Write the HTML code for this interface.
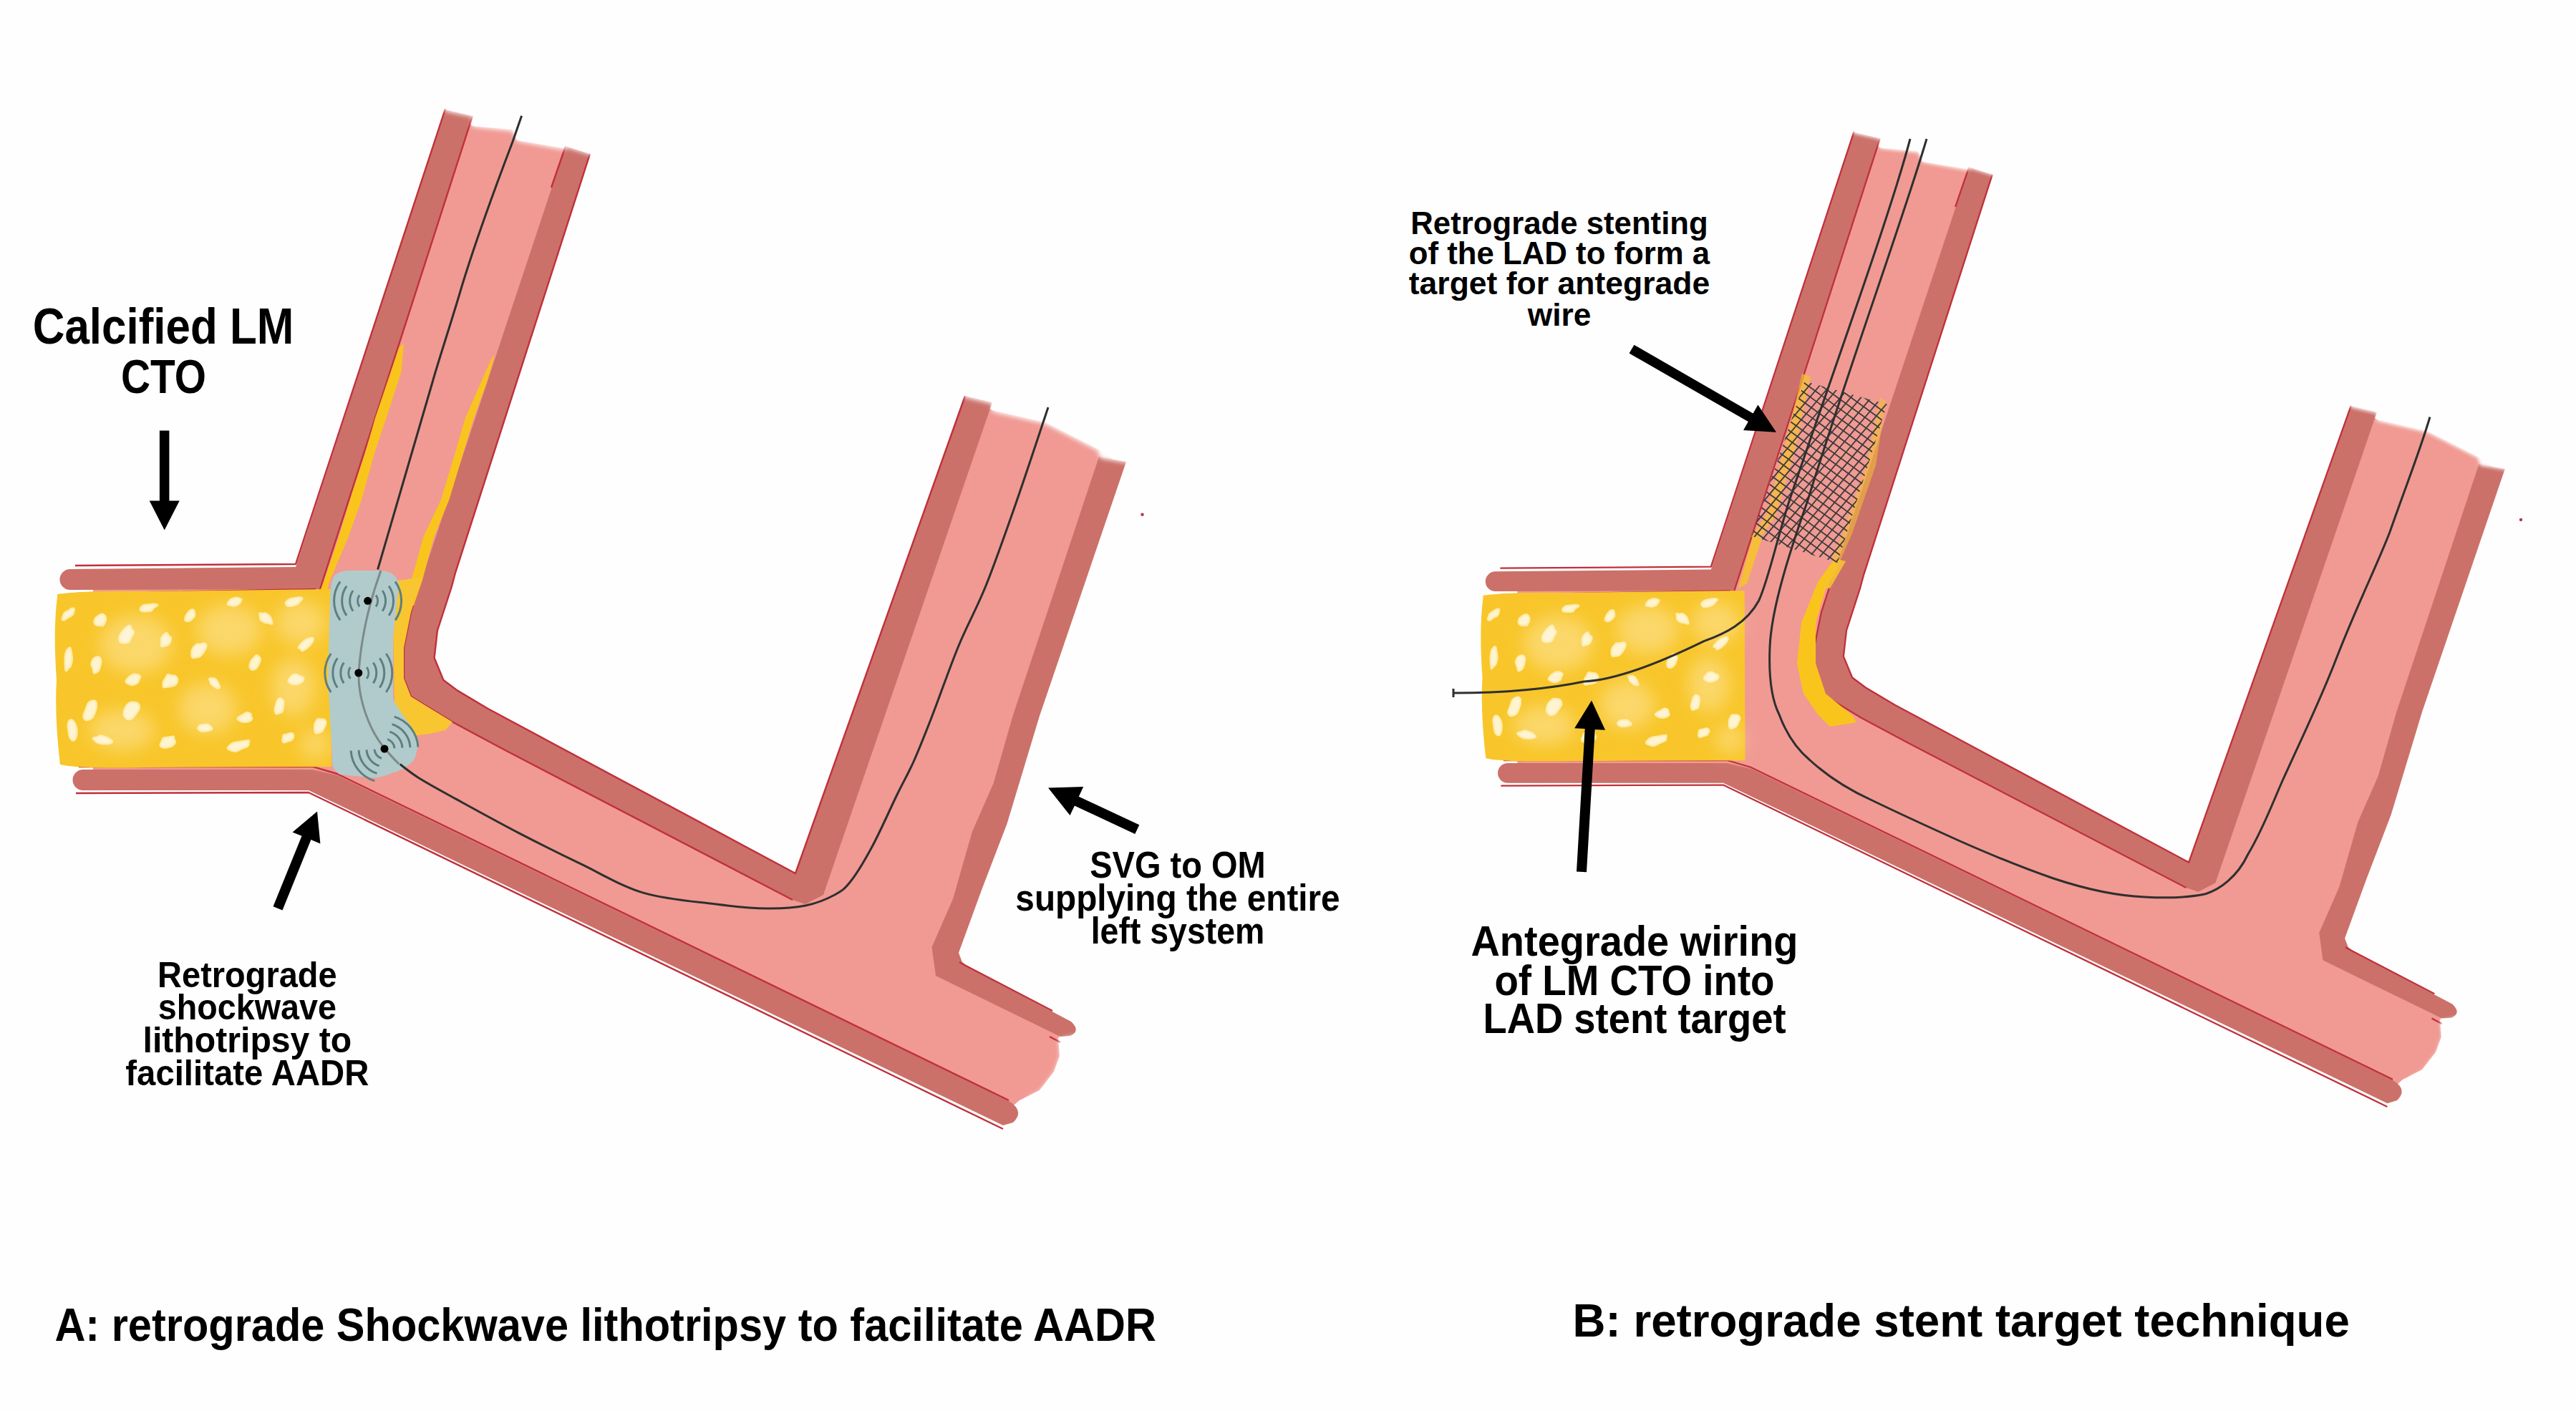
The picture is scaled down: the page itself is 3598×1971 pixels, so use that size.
<!DOCTYPE html>
<html><head><meta charset="utf-8"><title>LM CTO</title>
<style>
html,body{margin:0;padding:0;background:#fefefe;overflow:hidden;}
svg{display:block;}
text{font-family:"Liberation Sans",sans-serif;font-weight:bold;fill:#000;}
</style></head><body>
<svg width="3598" height="1971" viewBox="0 0 3598 1971">
<defs><filter id="soft" x="-50%" y="-50%" width="200%" height="200%"><feGaussianBlur stdDeviation="12"/></filter><filter id="fz" x="-20%" y="-20%" width="140%" height="140%"><feGaussianBlur stdDeviation="3"/></filter>
<g id="vessel">
<polygon points="130.0,808.0 430.0,805.0 641.0,158.0 660.0,176.0 716.0,181.0 722.0,196.0 788.0,207.0 807.0,210.0 608.0,820.0 588.0,905.0 590.0,950.0 610.0,970.0 660.0,1000.0 1110.0,1240.0 1367.0,558.0 1386.0,573.0 1460.0,590.0 1533.0,627.0 1554.0,641.0 1433.0,1000.0 1372.0,1200.0 1320.0,1328.0 1325.0,1354.0 1490.0,1438.0 1478.0,1450.0 1480.0,1475.0 1472.0,1497.0 1452.0,1523.0 1424.0,1537.0 1405.0,1553.0 451.0,1094.0 434.0,1088.0 130.0,1088.0" fill="#f09a93"/>
<path d="M98,795 L413,792 L622,153 L660,162 L447,823 L98,824 A14.5,14.5 0 0 1 98,795 Z" fill="#cb716a"/>
<polygon points="790.0,204.0 824.0,215.0 630.7,820.0 610.9,881.0 606.6,919.0 619.4,950.0 639.0,964.6 681.7,990.0 1111.0,1220.0 1348.0,553.0 1386.0,562.0 1150.0,1250.0 1125.0,1263.0 1107.0,1257.0 700.0,1045.0 632.0,1008.5 596.7,987.0 574.0,973.0 564.0,947.5 564.0,905.0 574.0,855.0 585.4,820.0" fill="#cb716a"/>
<path d="M1535,638 L1573,645 L1452,1000 L1406.5,1150.7 L1371.5,1242 L1339,1331 L1344,1344 L1354,1352 L1496,1427 Q1510,1440 1495,1447 L1481,1448 L1307,1363 L1301.5,1323 L1331,1255.7 L1358,1161.5 L1387.7,1094 L1414.6,1000 Z" fill="#cb716a"/>
<path d="M116,1075 L437,1075 L471,1083 L1409,1538 Q1432,1552 1415,1568 L1401,1572 L431,1104 L116,1104 A14.5,14.5 0 0 1 116,1075 Z" fill="#cb716a"/>
<polyline points="660.0,162.0 447.0,823.0" fill="none" stroke="#c0303b" stroke-width="2.4" stroke-linejoin="round"/>
<polyline points="824.0,215.0 636.0,800.0" fill="none" stroke="#c0303b" stroke-width="2.4" stroke-linejoin="round"/>
<polyline points="790.0,204.0 770.0,262.0" fill="none" stroke="#c0303b" stroke-width="2.4" stroke-linejoin="round"/>
<polyline points="105.0,790.0 413.0,788.0 622.0,152.0" fill="none" stroke="#c0303b" stroke-width="2.4" stroke-linejoin="round"/>
<polyline points="107.0,829.0 441.0,823.0" fill="none" stroke="#c0303b" stroke-width="2.4" stroke-linejoin="round"/>
<polyline points="636.0,800.0 630.7,820.0 610.9,881.0 606.6,919.0 619.4,950.0 639.0,964.6 681.7,990.0 1111.0,1220.0 1348.0,553.0" fill="none" stroke="#c0303b" stroke-width="2.4" stroke-linejoin="round"/>
<polyline points="590.0,800.0 585.4,820.0 574.0,855.0 564.0,905.0 564.0,947.5 574.0,973.0 596.7,987.0 632.0,1008.5 700.0,1045.0 1107.0,1257.0" fill="none" stroke="#c0303b" stroke-width="2.4" stroke-linejoin="round"/>
<polyline points="1340.0,1344.0 1351.0,1350.0 1470.0,1412.0" fill="none" stroke="#c0303b" stroke-width="2.4" stroke-linejoin="round"/>
<polyline points="110.0,1071.0 437.0,1071.0 471.0,1081.0 1409.0,1537.0" fill="none" stroke="#c0303b" stroke-width="2.4" stroke-linejoin="round"/>
<polyline points="106.0,1108.0 431.0,1107.0 1401.0,1577.0" fill="none" stroke="#c0303b" stroke-width="2.4" stroke-linejoin="round"/>
<polyline points="1466.0,1448.0 1481.0,1456.0" fill="none" stroke="#c0303b" stroke-width="2.4" stroke-linejoin="round"/>
<g filter="url(#fz)" fill="#fefefe"><polygon points="560,60 880,140 832,218 792,206 788,209 722,197 716,183 660,177 660,163 622,155"/><polygon points="1300,470 1620,560 1578,647 1537,640 1533,629 1460,592 1386,575 1386,564 1348,555"/><polygon points="1479,1452 1481,1475 1473,1498 1453,1524 1434,1535 1452,1546 1500,1522 1532,1472 1512,1444"/></g>
</g>
<g id="plaque">
<path d="M80,830 Q120,825 200,826 L462,823 L463,1071 L200,1072 Q110,1074 84,1068 Q76,1000 79,950 Q74,880 80,834 Z" fill="#f8c62a"/>
<g filter="url(#soft)" fill="#fde395" opacity="0.6"><ellipse cx="190" cy="900" rx="50" ry="40"/><ellipse cx="320" cy="880" rx="45" ry="35"/><ellipse cx="420" cy="870" rx="35" ry="30"/><ellipse cx="410" cy="960" rx="30" ry="40"/><ellipse cx="170" cy="1020" rx="45" ry="28"/><ellipse cx="290" cy="990" rx="40" ry="35"/><ellipse cx="440" cy="1040" rx="20" ry="20"/></g>
<path d="M103.7,850.7 C103.6,851.3 103.5,853.0 103.1,854.3 C102.7,855.7 102.7,857.5 101.4,858.9 C100.1,860.3 97.4,861.3 95.4,862.5 C93.5,863.7 91.2,865.7 89.8,866.1 C88.3,866.5 87.1,865.7 86.8,864.9 C86.5,864.0 87.5,862.4 88.0,861.0 C88.4,859.6 88.5,858.0 89.7,856.6 C90.9,855.3 93.4,854.2 95.3,853.1 C97.1,851.9 99.3,850.1 100.7,849.7 C102.1,849.3 103.3,850.0 103.7,850.7 C104.1,851.5 103.5,853.0 103.1,854.3 C102.7,855.7 101.7,858.1 101.4,858.9" fill="#fff9e2" stroke="#fff0bc" stroke-width="2.5" opacity="0.9"/>
<path d="M146.2,859.7 C146.4,860.3 147.5,861.7 147.7,863.0 C147.8,864.3 148.0,866.0 147.4,867.8 C146.7,869.5 145.3,872.6 143.9,873.6 C142.4,874.6 140.2,873.8 138.7,873.8 C137.2,873.7 136.0,873.8 134.8,873.3 C133.7,872.7 132.3,871.9 131.9,870.4 C131.5,868.9 131.6,866.2 132.6,864.4 C133.6,862.6 136.1,860.7 137.9,859.5 C139.6,858.4 141.7,857.7 143.0,857.7 C144.4,857.7 145.4,858.9 146.2,859.7 C147.0,860.6 147.5,861.7 147.7,863.0 C147.8,864.3 147.4,867.0 147.4,867.8" fill="#fff9e2" stroke="#fff0bc" stroke-width="2.5" opacity="0.9"/>
<path d="M220.2,845.4 C219.2,846.1 215.7,848.0 214.3,849.3 C212.8,850.6 213.3,852.3 211.5,853.1 C209.7,853.9 205.8,854.0 203.7,854.1 C201.5,854.2 199.7,854.1 198.4,853.7 C197.1,853.3 196.3,852.7 196.0,851.9 C195.7,851.1 195.7,850.2 196.5,849.1 C197.2,848.1 198.5,846.2 200.5,845.4 C202.4,844.7 205.7,844.9 208.1,844.6 C210.5,844.4 213.1,843.7 215.1,843.8 C217.1,843.9 220.3,844.5 220.2,845.4 C220.0,846.3 215.7,848.0 214.3,849.3 C212.8,850.6 211.9,852.5 211.5,853.1" fill="#fff9e2" stroke="#fff0bc" stroke-width="2.5" opacity="0.9"/>
<path d="M270.5,851.9 C270.7,852.6 271.6,854.4 271.8,855.9 C272.0,857.4 272.3,859.3 271.7,860.7 C271.1,862.2 269.3,863.7 268.1,864.8 C266.9,865.9 265.8,866.8 264.7,867.3 C263.6,867.8 262.4,868.0 261.4,867.7 C260.3,867.5 258.6,867.1 258.3,865.9 C258.0,864.7 258.8,862.1 259.6,860.4 C260.3,858.7 261.4,857.2 262.5,855.8 C263.7,854.4 265.1,852.6 266.4,852.0 C267.8,851.4 269.6,851.3 270.5,851.9 C271.4,852.6 271.6,854.4 271.8,855.9 C272.0,857.4 271.7,859.9 271.7,860.7" fill="#fff9e2" stroke="#fff0bc" stroke-width="2.5" opacity="0.9"/>
<path d="M337.4,837.3 C337.2,837.8 336.7,839.3 335.9,840.5 C335.2,841.6 334.6,843.2 333.0,844.2 C331.3,845.2 328.1,846.3 326.3,846.5 C324.4,846.7 323.1,846.0 321.7,845.6 C320.3,845.3 318.3,845.2 317.8,844.4 C317.4,843.6 318.1,842.2 318.9,841.0 C319.7,839.8 320.8,838.1 322.6,837.1 C324.4,836.1 327.5,835.1 329.5,834.9 C331.4,834.7 332.9,835.4 334.2,835.7 C335.5,836.1 337.1,836.5 337.4,837.3 C337.7,838.0 336.7,839.3 335.9,840.5 C335.2,841.6 333.5,843.6 333.0,844.2" fill="#fff9e2" stroke="#fff0bc" stroke-width="2.5" opacity="0.9"/>
<path d="M379.9,871.4 C378.9,871.2 375.7,870.4 374.0,870.1 C372.2,869.7 371.1,870.1 369.4,869.4 C367.7,868.6 364.9,867.1 363.8,865.7 C362.8,864.3 363.3,862.5 363.1,861.0 C362.9,859.5 361.8,857.4 362.5,856.8 C363.1,856.1 365.4,857.0 366.9,857.0 C368.4,857.0 369.8,856.1 371.5,856.8 C373.1,857.5 375.7,859.5 377.0,861.1 C378.2,862.7 378.7,864.6 379.2,866.3 C379.7,868.1 380.8,870.8 379.9,871.4 C379.1,872.0 375.7,870.4 374.0,870.1 C372.2,869.7 370.2,869.5 369.4,869.4" fill="#fff9e2" stroke="#fff0bc" stroke-width="2.5" opacity="0.9"/>
<path d="M422.4,836.2 C421.8,836.9 420.1,839.0 418.9,840.2 C417.7,841.5 417.1,843.0 415.3,844.0 C413.5,845.0 410.4,845.9 408.3,846.4 C406.1,846.8 403.6,847.0 402.2,846.7 C400.7,846.4 400.1,845.4 399.6,844.5 C399.1,843.6 398.4,842.6 399.2,841.3 C400.0,840.1 402.3,838.1 404.4,837.1 C406.5,836.2 409.5,835.8 411.8,835.4 C414.1,835.0 416.5,834.5 418.3,834.6 C420.0,834.7 422.3,835.3 422.4,836.2 C422.5,837.2 420.1,839.0 418.9,840.2 C417.7,841.5 415.9,843.4 415.3,844.0" fill="#fff9e2" stroke="#fff0bc" stroke-width="2.5" opacity="0.9"/>
<path d="M183.6,889.6 C183.0,890.7 181.8,895.1 180.1,896.6 C178.5,898.0 175.9,898.2 173.8,898.2 C171.8,898.2 169.0,898.2 167.8,896.7 C166.6,895.2 166.2,891.7 166.7,889.3 C167.3,886.9 169.5,884.3 170.9,882.2 C172.3,880.2 173.6,878.3 175.4,876.9 C177.1,875.5 179.9,873.5 181.4,873.9 C182.8,874.2 183.1,877.5 184.1,879.1 C185.0,880.7 187.1,881.6 187.0,883.3 C186.9,885.1 184.7,887.3 183.6,889.6 C182.4,891.8 181.8,895.1 180.1,896.6 C178.5,898.0 174.9,897.9 173.8,898.2" fill="#fff9e2" stroke="#fff0bc" stroke-width="2.5" opacity="0.9"/>
<path d="M237.6,896.8 C237.1,897.5 235.8,899.8 234.7,900.7 C233.5,901.6 232.3,901.7 230.7,902.1 C229.2,902.5 226.6,903.9 225.6,903.1 C224.7,902.3 225.1,899.0 225.0,897.2 C224.9,895.4 224.7,893.9 225.1,892.3 C225.6,890.7 226.6,889.0 227.8,887.6 C229.0,886.2 231.1,883.8 232.5,883.9 C233.8,884.0 234.7,887.0 235.8,888.3 C236.9,889.6 238.6,890.1 238.9,891.5 C239.2,893.0 238.3,895.3 237.6,896.8 C236.8,898.3 235.8,899.8 234.7,900.7 C233.5,901.6 231.4,901.9 230.7,902.1" fill="#fff9e2" stroke="#fff0bc" stroke-width="2.5" opacity="0.9"/>
<path d="M285.5,898.5 C285.9,899.1 288.3,900.3 288.2,902.2 C288.2,904.1 286.7,907.3 285.2,909.8 C283.8,912.3 281.3,915.6 279.3,917.0 C277.4,918.5 275.1,918.2 273.3,918.5 C271.5,918.7 269.6,919.2 268.6,918.5 C267.7,917.8 267.6,915.9 267.6,914.1 C267.5,912.3 267.1,910.0 268.2,907.7 C269.3,905.4 272.2,901.6 274.2,900.2 C276.2,898.9 278.3,900.0 280.1,899.7 C282.0,899.4 284.1,898.0 285.5,898.5 C286.8,898.9 288.3,900.3 288.2,902.2 C288.2,904.1 285.7,908.5 285.2,909.8" fill="#fff9e2" stroke="#fff0bc" stroke-width="2.5" opacity="0.9"/>
<path d="M361.6,927.7 C361.1,928.6 359.8,931.7 358.6,932.9 C357.5,934.2 356.0,935.0 354.6,935.4 C353.3,935.7 351.6,936.0 350.6,935.1 C349.6,934.3 348.6,932.3 348.6,930.4 C348.6,928.5 349.7,925.6 350.6,923.8 C351.5,921.9 352.8,920.8 354.0,919.4 C355.3,918.0 356.7,915.8 357.9,915.3 C359.2,914.9 360.5,915.9 361.5,916.9 C362.5,917.9 363.7,919.4 363.7,921.2 C363.7,923.0 362.4,925.8 361.6,927.7 C360.7,929.7 359.8,931.7 358.6,932.9 C357.5,934.2 355.3,935.0 354.6,935.4" fill="#fff9e2" stroke="#fff0bc" stroke-width="2.5" opacity="0.9"/>
<path d="M437.4,891.6 C437.3,892.4 437.4,894.6 436.6,896.2 C435.8,897.8 434.2,899.8 432.7,901.5 C431.1,903.1 429.2,905.0 427.3,906.2 C425.4,907.5 422.7,908.9 421.5,908.9 C420.3,908.9 420.8,906.9 420.1,906.2 C419.3,905.5 416.7,905.9 416.8,904.7 C417.0,903.5 419.2,900.8 420.9,898.9 C422.5,897.1 424.8,895.0 426.9,893.7 C428.9,892.4 431.2,891.6 433.0,891.3 C434.7,890.9 436.8,890.8 437.4,891.6 C438.0,892.4 437.4,894.6 436.6,896.2 C435.8,897.8 433.3,900.6 432.7,901.5" fill="#fff9e2" stroke="#fff0bc" stroke-width="2.5" opacity="0.9"/>
<path d="M100.7,920.6 C100.4,922.2 99.7,927.8 98.9,930.0 C98.0,932.2 96.8,932.5 95.6,933.6 C94.5,934.8 92.8,937.9 92.0,936.9 C91.3,936.0 91.2,930.8 90.9,927.9 C90.7,925.0 90.6,922.5 90.8,919.7 C91.0,916.9 91.4,913.3 92.1,911.0 C92.8,908.8 94.0,907.2 95.1,906.2 C96.1,905.2 97.5,904.2 98.3,905.3 C99.1,906.3 99.4,909.8 99.8,912.4 C100.2,914.9 100.9,917.6 100.7,920.6 C100.6,923.5 99.7,927.8 98.9,930.0 C98.0,932.2 96.2,933.0 95.6,933.6" fill="#fff9e2" stroke="#fff0bc" stroke-width="2.5" opacity="0.9"/>
<path d="M140.2,929.5 C139.9,930.6 139.3,934.3 138.4,935.9 C137.5,937.5 136.1,938.5 134.9,939.2 C133.7,939.9 132.0,940.8 131.1,939.9 C130.3,939.1 130.4,936.1 129.8,934.0 C129.2,931.9 127.3,929.7 127.5,927.3 C127.7,924.9 129.7,921.2 131.0,919.6 C132.2,918.1 133.9,918.1 135.2,917.8 C136.5,917.5 137.8,917.1 138.8,917.9 C139.8,918.6 141.0,920.4 141.2,922.3 C141.5,924.3 140.7,927.3 140.2,929.5 C139.7,931.8 139.3,934.3 138.4,935.9 C137.5,937.5 135.5,938.7 134.9,939.2" fill="#fff9e2" stroke="#fff0bc" stroke-width="2.5" opacity="0.9"/>
<path d="M196.1,944.8 C195.8,945.5 195.1,947.4 194.4,948.9 C193.8,950.4 193.9,952.5 192.3,953.9 C190.7,955.2 187.0,956.8 184.7,957.0 C182.5,957.2 180.5,955.9 178.9,955.1 C177.4,954.4 175.7,953.5 175.5,952.3 C175.4,951.1 176.9,949.3 177.9,948.0 C178.9,946.8 180.0,945.6 181.6,944.6 C183.1,943.5 185.3,942.2 187.2,941.8 C189.0,941.5 191.2,941.9 192.6,942.4 C194.1,942.9 195.8,943.7 196.1,944.8 C196.4,945.9 195.1,947.4 194.4,948.9 C193.8,950.4 192.7,953.0 192.3,953.9" fill="#fff9e2" stroke="#fff0bc" stroke-width="2.5" opacity="0.9"/>
<path d="M245.5,956.1 C244.5,956.6 241.4,958.3 239.6,958.8 C237.9,959.3 236.8,959.0 235.0,959.2 C233.2,959.4 229.7,960.9 228.6,959.9 C227.4,958.9 227.6,955.2 228.0,953.2 C228.4,951.1 229.8,949.5 230.9,947.7 C231.9,945.9 232.8,943.1 234.2,942.4 C235.6,941.7 237.6,943.2 239.3,943.4 C241.0,943.7 243.0,943.0 244.4,944.0 C245.9,944.9 247.8,947.1 247.9,949.1 C248.1,951.1 246.9,954.5 245.5,956.1 C244.1,957.7 241.4,958.3 239.6,958.8 C237.9,959.3 235.8,959.1 235.0,959.2" fill="#fff9e2" stroke="#fff0bc" stroke-width="2.5" opacity="0.9"/>
<path d="M307.0,960.4 C306.4,960.6 304.6,961.5 303.3,961.2 C301.9,960.9 300.1,959.6 298.7,958.7 C297.3,957.8 295.8,956.9 294.9,955.8 C294.0,954.7 293.9,953.5 293.5,952.2 C293.0,950.9 291.8,948.8 292.3,948.1 C292.7,947.3 294.6,947.5 296.0,947.5 C297.3,947.6 299.1,947.6 300.5,948.4 C301.8,949.3 303.2,951.2 304.0,952.5 C304.9,953.8 305.2,954.8 305.7,956.2 C306.2,957.5 307.4,959.6 307.0,960.4 C306.6,961.3 304.6,961.5 303.3,961.2 C301.9,960.9 299.5,959.2 298.7,958.7" fill="#fff9e2" stroke="#fff0bc" stroke-width="2.5" opacity="0.9"/>
<path d="M423.4,946.6 C423.3,947.4 423.8,950.1 422.8,951.5 C421.8,952.9 419.4,954.2 417.5,955.0 C415.5,955.7 413.0,956.1 410.9,956.0 C408.9,955.9 406.5,955.3 405.2,954.3 C403.8,953.3 402.6,951.6 402.7,950.3 C402.8,948.9 404.6,947.5 405.7,946.3 C406.7,945.0 407.4,943.4 408.9,942.8 C410.4,942.1 413.0,941.9 414.6,942.2 C416.2,942.5 416.9,943.6 418.4,944.3 C419.9,945.1 422.7,945.4 423.4,946.6 C424.1,947.8 423.8,950.1 422.8,951.5 C421.8,952.9 418.3,954.4 417.5,955.0" fill="#fff9e2" stroke="#fff0bc" stroke-width="2.5" opacity="0.9"/>
<path d="M132.2,995.9 C131.7,997.0 130.6,1000.8 129.3,1002.3 C128.1,1003.9 126.3,1004.6 124.7,1005.1 C123.0,1005.7 120.9,1006.6 119.5,1005.7 C118.2,1004.9 116.5,1002.4 116.6,1000.0 C116.6,997.6 118.6,994.2 119.6,991.3 C120.7,988.4 121.3,984.8 122.9,982.7 C124.5,980.6 127.2,979.0 129.1,978.7 C131.0,978.3 133.4,979.0 134.3,980.7 C135.2,982.4 134.8,986.4 134.5,988.9 C134.1,991.5 133.1,993.7 132.2,995.9 C131.4,998.1 130.6,1000.8 129.3,1002.3 C128.1,1003.9 125.4,1004.7 124.7,1005.1" fill="#fff9e2" stroke="#fff0bc" stroke-width="2.5" opacity="0.9"/>
<path d="M189.7,997.6 C188.9,998.5 186.6,1002.0 184.8,1003.2 C183.1,1004.5 180.9,1005.2 179.4,1005.1 C177.8,1005.1 176.5,1004.1 175.4,1002.9 C174.3,1001.7 172.7,1000.1 172.6,997.8 C172.5,995.5 173.2,991.6 174.7,988.9 C176.1,986.2 179.0,983.0 181.2,981.7 C183.4,980.4 185.7,980.8 187.7,981.0 C189.6,981.2 191.7,981.4 192.8,982.8 C194.0,984.3 195.1,987.1 194.6,989.6 C194.1,992.0 191.4,995.3 189.7,997.6 C188.1,999.9 186.6,1002.0 184.8,1003.2 C183.1,1004.5 180.3,1004.8 179.4,1005.1" fill="#fff9e2" stroke="#fff0bc" stroke-width="2.5" opacity="0.9"/>
<path d="M243.1,1033.2 C243.4,1033.8 245.3,1035.5 244.9,1036.9 C244.5,1038.4 242.6,1040.6 240.7,1041.9 C238.7,1043.1 235.4,1044.0 233.0,1044.3 C230.6,1044.6 227.8,1044.5 226.3,1043.9 C224.7,1043.2 223.9,1041.5 223.8,1040.2 C223.7,1038.9 225.0,1037.4 225.7,1035.9 C226.4,1034.4 226.6,1032.1 228.2,1031.1 C229.8,1030.1 233.0,1030.2 235.4,1029.8 C237.7,1029.4 241.2,1028.2 242.5,1028.7 C243.8,1029.3 242.7,1031.8 243.1,1033.2 C243.5,1034.5 245.3,1035.5 244.9,1036.9 C244.5,1038.4 241.4,1041.0 240.7,1041.9" fill="#fff9e2" stroke="#fff0bc" stroke-width="2.5" opacity="0.9"/>
<path d="M296.5,1018.5 C295.7,1018.8 293.6,1019.9 292.0,1020.4 C290.5,1020.8 289.2,1021.1 287.3,1021.2 C285.5,1021.4 282.8,1021.7 281.0,1021.2 C279.2,1020.6 277.2,1019.1 276.6,1018.1 C276.0,1017.0 276.9,1015.9 277.3,1015.1 C277.8,1014.3 278.4,1013.6 279.4,1013.1 C280.4,1012.6 281.8,1012.5 283.5,1012.3 C285.2,1012.1 287.8,1011.5 289.6,1011.9 C291.4,1012.4 293.2,1013.8 294.4,1014.9 C295.5,1016.0 296.8,1017.6 296.5,1018.5 C296.1,1019.4 293.6,1019.9 292.0,1020.4 C290.5,1020.8 288.1,1021.1 287.3,1021.2" fill="#fff9e2" stroke="#fff0bc" stroke-width="2.5" opacity="0.9"/>
<path d="M350.7,1000.8 C351.0,1001.4 352.7,1003.2 352.1,1004.4 C351.5,1005.6 349.0,1007.3 346.9,1008.0 C344.9,1008.7 341.7,1008.8 339.7,1008.6 C337.6,1008.4 336.2,1007.5 334.8,1006.8 C333.5,1006.0 331.7,1005.2 331.6,1004.2 C331.6,1003.2 333.4,1001.7 334.6,1000.8 C335.8,999.9 337.1,999.5 338.8,998.6 C340.5,997.7 342.8,995.5 344.7,995.3 C346.6,995.1 349.2,996.4 350.2,997.3 C351.2,998.2 350.4,999.6 350.7,1000.8 C351.0,1002.0 352.7,1003.2 352.1,1004.4 C351.5,1005.6 347.8,1007.4 346.9,1008.0" fill="#fff9e2" stroke="#fff0bc" stroke-width="2.5" opacity="0.9"/>
<path d="M395.9,986.3 C395.6,987.6 395.2,992.4 394.2,994.0 C393.2,995.6 391.4,995.4 390.1,995.9 C388.7,996.5 387.1,997.9 386.1,997.2 C385.0,996.6 383.9,994.0 383.8,991.9 C383.7,989.7 384.8,986.7 385.3,984.5 C385.9,982.3 386.4,980.3 387.2,978.8 C388.1,977.2 389.3,975.8 390.4,975.4 C391.4,974.9 392.5,975.5 393.4,976.2 C394.4,976.8 395.7,977.7 396.1,979.4 C396.5,981.1 396.2,983.9 395.9,986.3 C395.5,988.8 395.2,992.4 394.2,994.0 C393.2,995.6 390.8,995.6 390.1,995.9" fill="#fff9e2" stroke="#fff0bc" stroke-width="2.5" opacity="0.9"/>
<path d="M347.4,1038.3 C347.3,1038.9 347.9,1040.7 346.5,1041.9 C345.0,1043.1 341.6,1044.0 338.7,1045.3 C335.9,1046.6 332.2,1049.2 329.6,1049.6 C326.9,1050.1 324.5,1048.8 322.6,1048.2 C320.7,1047.6 318.8,1047.1 318.3,1046.1 C317.8,1045.1 318.3,1043.6 319.7,1042.2 C321.0,1040.7 323.4,1038.5 326.3,1037.5 C329.2,1036.4 333.3,1036.3 336.8,1035.8 C340.3,1035.2 345.5,1033.9 347.2,1034.3 C349.0,1034.7 347.6,1037.0 347.4,1038.3 C347.3,1039.6 347.9,1040.7 346.5,1041.9 C345.0,1043.1 340.0,1044.8 338.7,1045.3" fill="#fff9e2" stroke="#fff0bc" stroke-width="2.5" opacity="0.9"/>
<path d="M409.7,1026.0 C409.8,1026.6 410.4,1028.4 410.0,1029.7 C409.5,1031.1 408.2,1033.0 406.8,1033.9 C405.5,1034.9 403.4,1035.0 401.7,1035.6 C400.0,1036.1 398.0,1037.3 396.8,1037.2 C395.6,1037.1 394.8,1035.7 394.5,1034.8 C394.2,1033.8 394.8,1032.7 395.0,1031.4 C395.2,1030.1 394.6,1028.1 395.7,1027.1 C396.8,1026.1 399.6,1025.9 401.4,1025.4 C403.2,1024.9 405.1,1024.0 406.5,1024.1 C407.8,1024.2 409.2,1025.0 409.7,1026.0 C410.3,1026.9 410.4,1028.4 410.0,1029.7 C409.5,1031.1 407.4,1033.2 406.8,1033.9" fill="#fff9e2" stroke="#fff0bc" stroke-width="2.5" opacity="0.9"/>
<path d="M156.8,1035.9 C156.1,1036.3 154.7,1038.1 153.0,1038.6 C151.2,1039.2 148.5,1039.1 146.2,1039.0 C143.8,1039.0 141.1,1038.9 138.9,1038.2 C136.7,1037.5 134.4,1036.3 133.0,1035.1 C131.5,1033.9 129.6,1032.1 130.1,1031.1 C130.5,1030.2 134.1,1030.0 135.9,1029.4 C137.7,1028.7 138.7,1027.4 140.7,1027.4 C142.7,1027.4 145.7,1028.6 147.7,1029.4 C149.8,1030.2 151.4,1031.0 152.9,1032.1 C154.4,1033.2 156.8,1034.8 156.8,1035.9 C156.8,1036.9 154.7,1038.1 153.0,1038.6 C151.2,1039.2 147.3,1039.0 146.2,1039.0" fill="#fff9e2" stroke="#fff0bc" stroke-width="2.5" opacity="0.9"/>
<path d="M107.2,1018.3 C107.2,1019.7 107.3,1024.4 107.0,1026.8 C106.7,1029.2 106.1,1031.4 105.2,1032.6 C104.3,1033.9 103.0,1034.8 101.7,1034.4 C100.4,1033.9 98.5,1032.2 97.4,1029.9 C96.4,1027.5 96.0,1023.4 95.6,1020.3 C95.2,1017.3 94.6,1013.9 94.8,1011.6 C95.0,1009.3 96.0,1007.4 97.0,1006.4 C97.9,1005.4 99.2,1005.2 100.4,1005.7 C101.6,1006.3 103.2,1007.6 104.3,1009.6 C105.5,1011.7 106.8,1015.4 107.2,1018.3 C107.7,1021.1 107.3,1024.4 107.0,1026.8 C106.7,1029.2 105.5,1031.7 105.2,1032.6" fill="#fff9e2" stroke="#fff0bc" stroke-width="2.5" opacity="0.9"/>
<path d="M453.0,1015.9 C452.5,1016.8 451.2,1020.1 449.9,1021.3 C448.7,1022.6 447.0,1023.1 445.5,1023.6 C444.0,1024.0 441.7,1024.8 440.7,1023.8 C439.6,1022.9 439.4,1020.0 439.2,1017.9 C439.1,1015.8 439.1,1013.3 439.8,1011.1 C440.5,1008.9 442.0,1005.8 443.5,1004.7 C444.9,1003.7 446.8,1004.7 448.2,1004.7 C449.7,1004.8 451.2,1004.2 452.4,1004.9 C453.5,1005.6 455.3,1007.2 455.4,1009.1 C455.5,1010.9 453.9,1013.8 453.0,1015.9 C452.1,1017.9 451.2,1020.1 449.9,1021.3 C448.7,1022.6 446.2,1023.2 445.5,1023.6" fill="#fff9e2" stroke="#fff0bc" stroke-width="2.5" opacity="0.9"/>
</g></defs>
<rect width="3598" height="1971" fill="#fefefe"/>
<use href="#vessel"/>
<use href="#vessel" transform="translate(1995,38.3) scale(0.956)"/>
<use href="#plaque"/>
<use href="#plaque" transform="translate(1995,38.3) scale(0.956)"/>
<polygon points="563.9,480.0 560.6,519.0 539.4,584.0 523.0,633.0 505.0,698.0 486.6,750.0 461.0,810.5 457.0,824.0 447.0,826.0 452.9,810.5 473.4,750.0 491.4,690.0 510.0,633.0 524.0,584.0 546.0,519.0 557.0,486.0" fill="#f9c51c"/>
<polygon points="691.0,496.0 679.6,535.0 661.6,584.0 647.0,633.0 627.4,698.0 606.0,750.0 590.0,810.5 578.0,846.0 562.5,846.0 574.6,810.5 591.4,750.0 616.0,698.0 635.6,633.0 650.0,584.0 671.4,535.0 686.0,502.0" fill="#f9c51c"/>
<path d="M548,812 L590,806 L574,855 L564,905 L564,947.5 L574,973 L596.7,987 L632,1008.5 L622,1020 L600,1025 L575,1028 L552,1035 Z" fill="#f8c630"/>
<path d="M467,804 Q475,797 487,797 L532,797 Q552,798 557,815 L549,892 L549,977 Q562,1000 572,1011 Q586,1035 583,1045 Q580,1062 575,1065 Q560,1078 549,1079 Q530,1088 518,1086 L475,1082 Q462,1075 464,1056 L458,948 L461,835 Q462,812 467,804 Z" fill="#b1cbcc"/>
<path d="M728.6,161.7 L716,198 C700,240 668,325 645,400 C632,445 612,505 604,534 L527.6,795.5" fill="none" stroke="#2f2f2f" stroke-width="3"/>
<path d="M532,797 C520,830 505,880 501,940 C500,975 515,1020 538,1046 C545,1055 552,1062 557.5,1067.5" fill="none" stroke="#7d8a8c" stroke-width="3"/>
<path d="M558.7,1067.5 C563.1,1070.7 571.9,1078.5 585.0,1086.7 C598.1,1094.9 614.1,1103.6 637.4,1116.4 C660.7,1129.2 695.6,1148.5 724.7,1163.6 C753.8,1178.7 782.9,1193.2 812.0,1207.2 C841.1,1221.2 868.1,1238.1 899.4,1247.4 C930.7,1256.7 971.5,1259.4 1000.0,1263.0 C1028.5,1266.6 1049.8,1268.7 1070.6,1269.0 C1091.4,1269.3 1109.1,1268.2 1125.0,1265.0 C1140.9,1261.8 1155.1,1255.8 1165.8,1250.0 C1176.5,1244.2 1180.1,1241.5 1189.0,1230.0 C1197.9,1218.5 1208.3,1201.0 1219.0,1181.0 C1229.7,1161.0 1243.5,1129.5 1253.0,1110.0 C1262.5,1090.5 1267.8,1082.3 1276.0,1064.0 C1284.2,1045.7 1291.5,1027.0 1302.0,1000.0 C1312.5,973.0 1326.4,932.5 1339.0,902.0 C1351.6,871.5 1364.0,850.7 1377.5,817.0 C1391.0,783.3 1405.6,741.3 1420.0,700.0 C1434.4,658.7 1456.7,590.8 1464.0,569.0" fill="none" stroke="#2f2f2f" stroke-width="3"/>
<path d="M525.1,831.3 A14,14 0 0 1 525.1,847.3" fill="none" stroke="#5d7f82" stroke-width="3"/>
<path d="M534.1,825.0 A25,25 0 0 1 534.1,853.6" fill="none" stroke="#5d7f82" stroke-width="3"/>
<path d="M543.1,818.7 A36,36 0 0 1 543.1,859.9" fill="none" stroke="#5d7f82" stroke-width="3"/>
<path d="M552.1,812.3 A47,47 0 0 1 552.1,866.3" fill="none" stroke="#5d7f82" stroke-width="3"/>
<path d="M502.1,847.3 A14,14 0 0 1 502.1,831.3" fill="none" stroke="#5d7f82" stroke-width="3"/>
<path d="M493.1,853.6 A25,25 0 0 1 493.1,825.0" fill="none" stroke="#5d7f82" stroke-width="3"/>
<path d="M484.1,859.9 A36,36 0 0 1 484.1,818.7" fill="none" stroke="#5d7f82" stroke-width="3"/>
<path d="M475.1,866.3 A47,47 0 0 1 475.1,812.3" fill="none" stroke="#5d7f82" stroke-width="3"/>
<circle cx="513.6" cy="839.3" r="5.5" fill="#000"/>
<path d="M512.3,932.0 A14,14 0 0 1 512.3,948.0" fill="none" stroke="#5d7f82" stroke-width="3"/>
<path d="M521.3,925.7 A25,25 0 0 1 521.3,954.3" fill="none" stroke="#5d7f82" stroke-width="3"/>
<path d="M530.3,919.4 A36,36 0 0 1 530.3,960.6" fill="none" stroke="#5d7f82" stroke-width="3"/>
<path d="M539.3,913.0 A47,47 0 0 1 539.3,967.0" fill="none" stroke="#5d7f82" stroke-width="3"/>
<path d="M489.3,948.0 A14,14 0 0 1 489.3,932.0" fill="none" stroke="#5d7f82" stroke-width="3"/>
<path d="M480.3,954.3 A25,25 0 0 1 480.3,925.7" fill="none" stroke="#5d7f82" stroke-width="3"/>
<path d="M471.3,960.6 A36,36 0 0 1 471.3,919.4" fill="none" stroke="#5d7f82" stroke-width="3"/>
<path d="M462.3,967.0 A47,47 0 0 1 462.3,913.0" fill="none" stroke="#5d7f82" stroke-width="3"/>
<circle cx="500.8" cy="940" r="5.5" fill="#000"/>
<path d="M541.1,1032.6 A14,14 0 0 1 551.0,1045.3" fill="none" stroke="#5d7f82" stroke-width="3"/>
<path d="M544.3,1022.1 A25,25 0 0 1 562.0,1044.7" fill="none" stroke="#5d7f82" stroke-width="3"/>
<path d="M547.5,1011.6 A36,36 0 0 1 573.0,1044.1" fill="none" stroke="#5d7f82" stroke-width="3"/>
<path d="M550.7,1001.1 A47,47 0 0 1 583.9,1043.5" fill="none" stroke="#5d7f82" stroke-width="3"/>
<path d="M532.9,1059.4 A14,14 0 0 1 523.0,1046.7" fill="none" stroke="#5d7f82" stroke-width="3"/>
<path d="M529.7,1069.9 A25,25 0 0 1 512.0,1047.3" fill="none" stroke="#5d7f82" stroke-width="3"/>
<path d="M526.5,1080.4 A36,36 0 0 1 501.0,1047.9" fill="none" stroke="#5d7f82" stroke-width="3"/>
<path d="M523.3,1090.9 A47,47 0 0 1 490.1,1048.5" fill="none" stroke="#5d7f82" stroke-width="3"/>
<circle cx="537" cy="1046" r="5.5" fill="#000"/>
<path d="M2561.5,782 L2539,813 L2516,870 L2510,927 L2519,969 L2539,998 L2556,1015 L2592.6,1009 L2588,1000 L2550,969 L2536,927 L2536,870 L2550,822 L2567,793.6 Z" fill="#f9c51c"/>
<clipPath id="stentclip"><polygon points="2520.5,532.5 2635.7,564.8 2566.6,786 2446.8,749"/></clipPath>
<polygon points="2517.0,522.0 2529.0,526.0 2508.0,624.0 2480.0,721.0 2458.0,752.0 2446.0,750.0 2466.0,721.0 2493.0,624.0" fill="#f6c230" opacity="0.7"/>
<polygon points="2626.0,555.0 2634.0,560.0 2620.0,650.0 2587.0,745.0 2570.0,784.0 2558.0,781.0 2574.0,745.0 2607.0,649.0" fill="#f6c230" opacity="0.55"/>
<polygon points="2448.0,750.0 2461.0,752.0 2440.0,815.0 2428.0,822.0" fill="#f6c230" opacity="0.9"/>
<polygon points="2566.0,781.0 2578.0,784.0 2556.0,822.0 2545.0,820.0" fill="#f6c230" opacity="0.9"/>
<g clip-path="url(#stentclip)" stroke="#3b3b3b" stroke-width="1.8"><line x1="2540.8" y1="319.0" x2="2864.4" y2="554.1"/><line x1="2534.4" y1="327.9" x2="2858.0" y2="563.0"/><line x1="2527.9" y1="336.8" x2="2851.5" y2="571.9"/><line x1="2521.4" y1="345.7" x2="2845.0" y2="580.8"/><line x1="2515.0" y1="354.6" x2="2838.6" y2="589.7"/><line x1="2508.5" y1="363.5" x2="2832.1" y2="598.6"/><line x1="2502.0" y1="372.4" x2="2825.7" y2="607.5"/><line x1="2495.6" y1="381.3" x2="2819.2" y2="616.4"/><line x1="2489.1" y1="390.2" x2="2812.7" y2="625.3"/><line x1="2482.6" y1="399.1" x2="2806.3" y2="634.2"/><line x1="2476.2" y1="408.0" x2="2799.8" y2="643.1"/><line x1="2469.7" y1="416.9" x2="2793.3" y2="652.0"/><line x1="2463.2" y1="425.8" x2="2786.9" y2="660.9"/><line x1="2456.8" y1="434.7" x2="2780.4" y2="669.8"/><line x1="2450.3" y1="443.6" x2="2773.9" y2="678.7"/><line x1="2443.9" y1="452.5" x2="2767.5" y2="687.6"/><line x1="2437.4" y1="461.4" x2="2761.0" y2="696.5"/><line x1="2430.9" y1="470.2" x2="2754.5" y2="705.4"/><line x1="2424.5" y1="479.1" x2="2748.1" y2="714.3"/><line x1="2418.0" y1="488.0" x2="2741.6" y2="723.2"/><line x1="2411.5" y1="496.9" x2="2735.1" y2="732.1"/><line x1="2405.1" y1="505.8" x2="2728.7" y2="741.0"/><line x1="2398.6" y1="514.7" x2="2722.2" y2="749.9"/><line x1="2392.1" y1="523.6" x2="2715.7" y2="758.8"/><line x1="2385.7" y1="532.5" x2="2709.3" y2="767.7"/><line x1="2379.2" y1="541.4" x2="2702.8" y2="776.6"/><line x1="2372.7" y1="550.3" x2="2696.3" y2="785.5"/><line x1="2366.3" y1="559.2" x2="2689.9" y2="794.4"/><line x1="2359.8" y1="568.1" x2="2683.4" y2="803.3"/><line x1="2353.3" y1="577.0" x2="2676.9" y2="812.2"/><line x1="2346.9" y1="585.9" x2="2670.5" y2="821.1"/><line x1="2340.4" y1="594.8" x2="2664.0" y2="830.0"/><line x1="2333.9" y1="603.7" x2="2657.5" y2="838.9"/><line x1="2327.5" y1="612.6" x2="2651.1" y2="847.8"/><line x1="2321.0" y1="621.5" x2="2644.6" y2="856.6"/><line x1="2314.5" y1="630.4" x2="2638.1" y2="865.5"/><line x1="2308.1" y1="639.3" x2="2631.7" y2="874.4"/><line x1="2301.6" y1="648.2" x2="2625.2" y2="883.3"/><line x1="2295.1" y1="657.1" x2="2618.8" y2="892.2"/><line x1="2288.7" y1="666.0" x2="2612.3" y2="901.1"/><line x1="2282.2" y1="674.9" x2="2605.8" y2="910.0"/><line x1="2275.7" y1="683.8" x2="2599.4" y2="918.9"/><line x1="2269.3" y1="692.7" x2="2592.9" y2="927.8"/><line x1="2262.8" y1="701.6" x2="2586.4" y2="936.7"/><line x1="2256.3" y1="710.5" x2="2580.0" y2="945.6"/><line x1="2249.9" y1="719.4" x2="2573.5" y2="954.5"/><line x1="2243.4" y1="728.3" x2="2567.0" y2="963.4"/><line x1="2237.0" y1="737.2" x2="2560.6" y2="972.3"/><line x1="2230.5" y1="746.1" x2="2554.1" y2="981.2"/><line x1="2224.0" y1="755.0" x2="2547.6" y2="990.1"/><line x1="2217.6" y1="763.9" x2="2541.2" y2="999.0"/><line x1="2880.2" y1="682.6" x2="2623.1" y2="989.0"/><line x1="2871.8" y1="675.5" x2="2614.7" y2="981.9"/><line x1="2863.4" y1="668.4" x2="2606.3" y2="974.8"/><line x1="2854.9" y1="661.3" x2="2597.8" y2="967.8"/><line x1="2846.5" y1="654.3" x2="2589.4" y2="960.7"/><line x1="2838.1" y1="647.2" x2="2581.0" y2="953.6"/><line x1="2829.7" y1="640.1" x2="2572.5" y2="946.6"/><line x1="2821.2" y1="633.1" x2="2564.1" y2="939.5"/><line x1="2812.8" y1="626.0" x2="2555.7" y2="932.4"/><line x1="2804.4" y1="618.9" x2="2547.3" y2="925.3"/><line x1="2796.0" y1="611.9" x2="2538.8" y2="918.3"/><line x1="2787.5" y1="604.8" x2="2530.4" y2="911.2"/><line x1="2779.1" y1="597.7" x2="2522.0" y2="904.1"/><line x1="2770.7" y1="590.6" x2="2513.6" y2="897.1"/><line x1="2762.2" y1="583.6" x2="2505.1" y2="890.0"/><line x1="2753.8" y1="576.5" x2="2496.7" y2="882.9"/><line x1="2745.4" y1="569.4" x2="2488.3" y2="875.8"/><line x1="2737.0" y1="562.4" x2="2479.9" y2="868.8"/><line x1="2728.5" y1="555.3" x2="2471.4" y2="861.7"/><line x1="2720.1" y1="548.2" x2="2463.0" y2="854.6"/><line x1="2711.7" y1="541.1" x2="2454.6" y2="847.6"/><line x1="2703.3" y1="534.1" x2="2446.1" y2="840.5"/><line x1="2694.8" y1="527.0" x2="2437.7" y2="833.4"/><line x1="2686.4" y1="519.9" x2="2429.3" y2="826.4"/><line x1="2678.0" y1="512.9" x2="2420.9" y2="819.3"/><line x1="2669.6" y1="505.8" x2="2412.4" y2="812.2"/><line x1="2661.1" y1="498.7" x2="2404.0" y2="805.1"/><line x1="2652.7" y1="491.6" x2="2395.6" y2="798.1"/><line x1="2644.3" y1="484.6" x2="2387.2" y2="791.0"/><line x1="2635.9" y1="477.5" x2="2378.7" y2="783.9"/><line x1="2627.4" y1="470.4" x2="2370.3" y2="776.9"/><line x1="2619.0" y1="463.4" x2="2361.9" y2="769.8"/><line x1="2610.6" y1="456.3" x2="2353.5" y2="762.7"/><line x1="2602.1" y1="449.2" x2="2345.0" y2="755.6"/><line x1="2593.7" y1="442.2" x2="2336.6" y2="748.6"/><line x1="2585.3" y1="435.1" x2="2328.2" y2="741.5"/><line x1="2576.9" y1="428.0" x2="2319.8" y2="734.4"/><line x1="2568.4" y1="420.9" x2="2311.3" y2="727.4"/><line x1="2560.0" y1="413.9" x2="2302.9" y2="720.3"/><line x1="2551.6" y1="406.8" x2="2294.5" y2="713.2"/><line x1="2543.2" y1="399.7" x2="2286.0" y2="706.1"/><line x1="2534.7" y1="392.7" x2="2277.6" y2="699.1"/><line x1="2526.3" y1="385.6" x2="2269.2" y2="692.0"/><line x1="2517.9" y1="378.5" x2="2260.8" y2="684.9"/><line x1="2509.5" y1="371.4" x2="2252.3" y2="677.9"/><line x1="2501.0" y1="364.4" x2="2243.9" y2="670.8"/><line x1="2492.6" y1="357.3" x2="2235.5" y2="663.7"/><line x1="2484.2" y1="350.2" x2="2227.1" y2="656.7"/><line x1="2475.7" y1="343.2" x2="2218.6" y2="649.6"/><line x1="2467.3" y1="336.1" x2="2210.2" y2="642.5"/><line x1="2458.9" y1="329.0" x2="2201.8" y2="635.4"/></g>
<path d="M2668,194 C2640,300 2560,520 2499,700 C2480,760 2470,810 2456.6,839 C2440,870 2410,885 2380,895.6 C2330,920 2260,950 2212.6,952 C2150,965 2080,968 2030,968" fill="none" stroke="#2f2f2f" stroke-width="3"/>
<path d="M2030,962 L2030,974" stroke="#2f2f2f" stroke-width="3"/>
<path d="M2691,194 C2660,300 2580,520 2524.6,700 C2500,770 2474,850 2472,904 C2470,950 2476,980 2485,998 C2495,1025 2508,1045 2527.6,1061.5 C2550,1082 2580,1102 2612.7,1117 C2650,1135 2700,1158 2740,1176 C2790,1198 2830,1214 2868,1227 C2910,1241 2950,1251 2995.5,1253 C3030,1255 3060,1253 3080.5,1248.7 C3100,1243 3125,1225 3140,1193 C3160,1160 3175,1120 3187.8,1091 C3220,1020 3240,980 3262.5,921.8 C3290,850 3320,790 3338,743 C3360,680 3380,630 3394,582.5" fill="none" stroke="#2f2f2f" stroke-width="3"/>
<circle cx="1595.5" cy="718.7" r="2.2" fill="#b03a48"/><circle cx="3521" cy="726" r="2.2" fill="#b03a48"/>
<polygon points="222.9,601.6 222.9,699.6 208.7,699.6 229.7,740.6 250.7,699.6 236.4,699.6 236.4,601.6" fill="#000"/>
<polygon points="394.5,1271.4 434.4,1173.1 447.4,1178.4 443.0,1133.4 408.5,1162.6 421.5,1167.8 381.5,1266.2" fill="#000"/>
<polygon points="1591.3,1152.3 1506.8,1112.7 1513.2,1099.1 1464.0,1100.4 1494.5,1139.0 1500.9,1125.4 1585.3,1164.9" fill="#000"/>
<polygon points="2275.6,493.5 2441.8,589.1 2435.0,601.0 2481.0,603.8 2455.4,565.4 2448.6,577.4 2282.4,481.7" fill="#000"/>
<polygon points="2216.0,1218.2 2227.7,1018.9 2242.1,1019.8 2223.0,978.6 2199.2,1017.3 2213.7,1018.1 2202.0,1217.4" fill="#000"/>
<text x="228" y="480.4" font-size="70.5" text-anchor="middle" textLength="364.5" lengthAdjust="spacingAndGlyphs">Calcified LM</text>
<text x="228.5" y="549.3" font-size="67" text-anchor="middle" textLength="119" lengthAdjust="spacingAndGlyphs">CTO</text>
<text x="345.4" y="1378.9" font-size="49.4" text-anchor="middle" textLength="250.6" lengthAdjust="spacingAndGlyphs">Retrograde</text>
<text x="345.4" y="1423.6" font-size="49.4" text-anchor="middle" textLength="249.2" lengthAdjust="spacingAndGlyphs">shockwave</text>
<text x="345.4" y="1469.7" font-size="49.4" text-anchor="middle" textLength="291.8" lengthAdjust="spacingAndGlyphs">lithotripsy to</text>
<text x="345.4" y="1515.8" font-size="49.4" text-anchor="middle" textLength="340.2" lengthAdjust="spacingAndGlyphs">facilitate AADR</text>
<text x="1645" y="1225.6" font-size="50.9" text-anchor="middle" textLength="245.5" lengthAdjust="spacingAndGlyphs">SVG to OM</text>
<text x="1645" y="1272.2" font-size="50.9" text-anchor="middle" textLength="453.3" lengthAdjust="spacingAndGlyphs">supplying the entire</text>
<text x="1645" y="1317.8" font-size="50.9" text-anchor="middle" textLength="242.6" lengthAdjust="spacingAndGlyphs">left system</text>
<text x="2178" y="326.8" font-size="43.6" text-anchor="middle" textLength="415.5" lengthAdjust="spacingAndGlyphs">Retrograde stenting</text>
<text x="2178" y="368.8" font-size="43.6" text-anchor="middle" textLength="420.4" lengthAdjust="spacingAndGlyphs">of the LAD to form a</text>
<text x="2178" y="410.7" font-size="43.6" text-anchor="middle" textLength="420.4" lengthAdjust="spacingAndGlyphs">target for antegrade</text>
<text x="2178" y="454.5" font-size="43.6" text-anchor="middle" textLength="88.5" lengthAdjust="spacingAndGlyphs">wire</text>
<text x="2283" y="1335.3" font-size="59.2" text-anchor="middle" textLength="457.1" lengthAdjust="spacingAndGlyphs">Antegrade wiring</text>
<text x="2283" y="1389.7" font-size="59.2" text-anchor="middle" textLength="391.1" lengthAdjust="spacingAndGlyphs">of LM CTO into</text>
<text x="2283" y="1443" font-size="59.2" text-anchor="middle" textLength="423.1" lengthAdjust="spacingAndGlyphs">LAD stent target</text>
<text x="76.4" y="1872.5" font-size="64" textLength="1538.6" lengthAdjust="spacingAndGlyphs">A: retrograde Shockwave lithotripsy to facilitate AADR</text>
<text x="2196.6" y="1866.9" font-size="64" textLength="1085.2" lengthAdjust="spacingAndGlyphs">B: retrograde stent target technique</text>
</svg>
</body></html>
